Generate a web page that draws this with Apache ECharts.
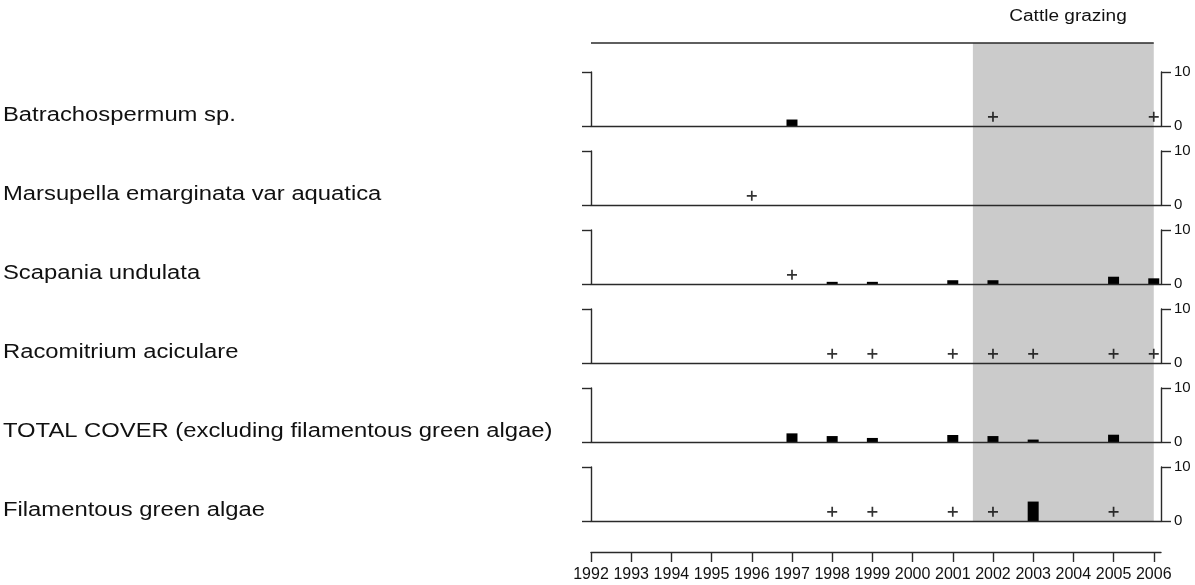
<!DOCTYPE html>
<html>
<head>
<meta charset="utf-8">
<script src="https://cdn.jsdelivr.net/npm/echarts@6/dist/echarts.min.js"></script>
<style>
html,body{margin:0;padding:0;background:#ffffff;}
#chart{width:1195px;height:585px;}
</style>
</head>
<body>
<div id="chart"></div>
<script>
// ---------------- DATA ----------------
const years = [1992, 1993, 1994, 1995, 1996, 1997, 1998, 1999, 2000, 2001, 2002, 2003, 2004, 2005, 2006];
const species = [
  'Batrachospermum sp.',
  'Marsupella emarginata var aquatica',
  'Scapania undulata',
  'Racomitrium aciculare',
  'TOTAL COVER (excluding filamentous green algae)',
  'Filamentous green algae'
];
// percentage cover (bars): [year, cover]
const coverBatrachospermum = [[1997, 1.2]];
const coverMarsupella = [];
const coverScapania = [[1998, 0.4], [1999, 0.4], [2001, 0.7], [2002, 0.7], [2005, 1.35], [2006, 1.05]];
const coverRacomitrium = [];
const coverTotal = [[1997, 1.6], [1998, 1.1], [1999, 0.75], [2001, 1.3], [2002, 1.1], [2003, 0.45], [2005, 1.35]];
const coverAlgae = [[2003, 3.6]];
// present but with trace cover ("+"): [year, plotted level]
const traceBatrachospermum = [[2002, 1.7], [2006, 1.7]];
const traceMarsupella = [[1996, 1.7]];
const traceScapania = [[1997, 1.7]];
const traceRacomitrium = [[1998, 1.7], [1999, 1.7], [2001, 1.7], [2002, 1.7], [2003, 1.7], [2005, 1.7], [2006, 1.7]];
const traceTotal = [];
const traceAlgae = [[1998, 1.7], [1999, 1.7], [2001, 1.7], [2002, 1.7], [2005, 1.7]];
const scaleTicks = [0, 10];
const recordSpan = [1992, 2006];
const grazingPeriod = [2001.5, 2006];
const grazingLabel = 'Cattle grazing';

// ---------------- LAYOUT / STYLE ----------------
const FONT = "'Liberation Sans', Arial, Helvetica, sans-serif";
const LEFT = 591, RIGHT = 34;
const X_MIN = 1992, X_MAX = 2006.18;
const PANEL_TOP = 72, PANEL_STEP = 79, PANEL_H = 54;
const AXIS_COLOR = '#2a2a2a';
const STRETCH = 1.19;
const plusPath = 'path://M4.15,0L5.85,0L5.85,4.15L10,4.15L10,5.85L5.85,5.85L5.85,10L4.15,10L4.15,5.85L0,5.85L0,4.15L4.15,4.15Z';

const covers = [coverBatrachospermum, coverMarsupella, coverScapania, coverRacomitrium, coverTotal, coverAlgae];
const traces = [traceBatrachospermum, traceMarsupella, traceScapania, traceRacomitrium, traceTotal, traceAlgae];

const grid = [{left: LEFT, right: RIGHT, top: 43, height: 478}];
const xAxis = [{gridIndex: 0, type: 'value', min: X_MIN, max: X_MAX, show: false}];
const yAxis = [{gridIndex: 0, type: 'value', min: 0, max: 1, show: false}];
const series = [{
  type: 'line', xAxisIndex: 0, yAxisIndex: 0, z: 1, silent: true, clip: false,
  symbol: 'none', data: [[recordSpan[0], 1], [recordSpan[1], 1]],
  lineStyle: {color: AXIS_COLOR, width: 1.4},
  markArea: {
    silent: true, z: 0,
    itemStyle: {color: '#cbcbcb'},
    data: [[{xAxis: grazingPeriod[0]}, {xAxis: grazingPeriod[1]}]]
  }
}];
const graphic = [];

species.forEach((name, p) => {
  const gi = p + 1;
  const top = PANEL_TOP + PANEL_STEP * p;
  grid.push({left: LEFT, right: RIGHT, top: top, height: PANEL_H});
  xAxis.push({
    gridIndex: gi, type: 'value', min: X_MIN, max: X_MAX, position: 'bottom', z: 5,
    axisLine: {show: true, onZero: false, lineStyle: {color: AXIS_COLOR, width: 1.4}},
    axisTick: {show: false}, axisLabel: {show: false}, splitLine: {show: false}
  });
  yAxis.push({
    gridIndex: gi, type: 'value', min: scaleTicks[0], max: scaleTicks[1], interval: 10, position: 'left', z: 5,
    axisLine: {show: true, onZero: false, lineStyle: {color: AXIS_COLOR, width: 1.4}},
    axisTick: {show: true, length: 9, lineStyle: {color: AXIS_COLOR, width: 1.4}},
    axisLabel: {show: false}, splitLine: {show: false}
  });
  yAxis.push({
    gridIndex: gi, type: 'value', min: scaleTicks[0], max: scaleTicks[1], interval: 10, position: 'right', z: 5,
    axisLine: {show: true, onZero: false, lineStyle: {color: AXIS_COLOR, width: 1.4}},
    axisTick: {show: true, length: 10, lineStyle: {color: AXIS_COLOR, width: 1.4}},
    axisLabel: {show: true, fontSize: 15, color: '#111', margin: 13, fontFamily: FONT,
      padding: [5, 0, 0, 0], formatter: v => String(v)},
    splitLine: {show: false}
  });
  series.push({
    type: 'bar', xAxisIndex: gi, yAxisIndex: 2 * p + 1, barWidth: 11, z: 3,
    itemStyle: {color: '#000000'}, data: covers[p], silent: true
  });
  series.push({
    type: 'scatter', xAxisIndex: gi, yAxisIndex: 2 * p + 1, z: 4,
    symbol: plusPath, symbolSize: 10, itemStyle: {color: '#000000'}, data: traces[p], silent: true
  });
  graphic.push({
    type: 'text', x: 3, y: top + PANEL_H - 11, scaleX: STRETCH,
    style: {text: name, fontSize: 20, fontFamily: FONT, fill: '#111', align: 'left', verticalAlign: 'middle'}
  });
});

// bottom year axis
grid.push({left: LEFT, right: RIGHT, top: 540, height: 12});
xAxis.push({
  gridIndex: 7, type: 'value', min: X_MIN, max: X_MAX, position: 'bottom',
  axisLine: {show: true, onZero: false, lineStyle: {color: AXIS_COLOR, width: 1.4}},
  axisTick: {show: true, length: 10, customValues: years, lineStyle: {color: AXIS_COLOR, width: 1.4}},
  axisLabel: {show: true, customValues: years, fontSize: 16, color: '#111', margin: 15, fontFamily: FONT,
    formatter: v => String(v)},
  splitLine: {show: false}
});
yAxis.push({gridIndex: 7, type: 'value', min: 0, max: 1, show: false});

graphic.push({
  type: 'text', x: 1068, y: 17, scaleX: STRETCH,
  style: {text: grazingLabel, fontSize: 16, fontFamily: FONT, fill: '#111', align: 'center', verticalAlign: 'middle'}
});

const chart = echarts.init(document.getElementById('chart'));
chart.setOption({
  animation: false,
  backgroundColor: '#ffffff',
  grid: grid, xAxis: xAxis, yAxis: yAxis, series: series, graphic: graphic
});
</script>
</body>
</html>
